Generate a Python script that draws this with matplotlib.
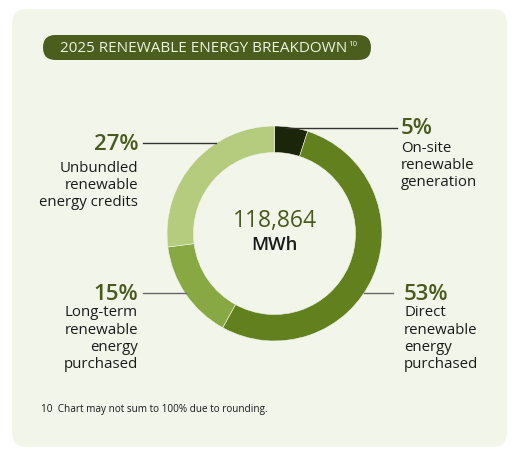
import matplotlib
matplotlib.use("Agg")
import matplotlib.pyplot as plt
from matplotlib.patches import FancyBboxPatch

# ---- data ----
categories = ["On-site renewable generation",
              "Direct renewable energy purchased",
              "Long-term renewable energy purchased",
              "Unbundled renewable energy credits"]
shares = [5, 53, 15, 27]
pct_labels = ["5%", "53%", "15%", "27%"]
desc_labels = [["On-site", "renewable", "generation"],
               ["Direct", "renewable", "energy", "purchased"],
               ["Long-term", "renewable", "energy", "purchased"],
               ["Unbundled", "renewable", "energy credits"]]
total_text = "118,864"
unit_text = "MWh"
title_text = "2025 RENEWABLE ENERGY BREAKDOWN"
title_sup = "10"
footnote = "10  Chart may not sum to 100% due to rounding."

colors = ["#1b2509", "#63801f", "#88a843", "#b5cb7d"]
W, H = 524, 452
FONT = "Open Sans"
PCT_C = "#4a5a1c"
TXT_C = "#1a1a1a"

def Y(y):
    return H - y

fig = plt.figure(figsize=(W / 100, H / 100), dpi=100)
fig.patch.set_facecolor("white")
ax = fig.add_axes([0, 0, 1, 1])
ax.set_xlim(0, W)
ax.set_ylim(0, H)
ax.set_aspect("equal")
ax.axis("off")

# panel background
ax.add_patch(FancyBboxPatch((12 + 14, Y(448) + 14), 495 - 28, 438 - 28,
                            boxstyle="round,pad=14", fc="#f2f6ea", ec="none", zorder=0))
# title pill
ax.add_patch(FancyBboxPatch((43 + 12.5, Y(61) + 12.5), 328 - 25, 0.01,
                            boxstyle="round,pad=12.5", fc="#4b5e1d", ec="none", zorder=1))
ax.text(347, Y(49), title_text, ha="right", va="center", fontsize=11,
        color="#eef4e2", family=FONT, zorder=2)
ax.text(348, Y(44), title_sup, ha="left", va="center", fontsize=5.8,
        color="#eef4e2", family=FONT, zorder=2)

# donut
cx, cy, R, w = 274.5, Y(234.5), 107.5, 26.5
ax.pie(shares, colors=colors, startangle=90, counterclock=False,
       center=(cx, cy), radius=R, frame=True,
       wedgeprops=dict(width=w, edgecolor="#f2f6ea", linewidth=0.4))
ax.set_xlim(0, W)
ax.set_ylim(0, H)
ax.axis("off")

ax.text(cx, Y(221), total_text, ha="center", va="center", fontsize=16.5,
        color=PCT_C, family=FONT, zorder=3)
ax.text(cx, Y(245), unit_text, ha="center", va="center", fontsize=13.3,
        color=TXT_C, family=FONT, fontweight="semibold", zorder=3)

# leader lines
ax.plot([286, 397], [Y(129), Y(129)], color="#333333", lw=1.0, zorder=3)
ax.plot([143, 216], [Y(144), Y(144)], color="#333333", lw=1.0, zorder=3)
ax.plot([143, 186], [Y(294), Y(294)], color="#666666", lw=1.0, zorder=1)
ax.plot([364, 393], [Y(294), Y(294)], color="#666666", lw=1.0, zorder=1)

# labels: (x, y of pct, ha)
label_pos = [(401, 129, "left"), (404, 294, "left"), (138, 294, "right"), (138, 144, "right")]
desc_start = [148, 313, 313, 168]
for i in range(4):
    x, y, ha = label_pos[i]
    ax.text(x, Y(y), pct_labels[i], ha=ha, va="center", fontsize=16,
            color=PCT_C, family=FONT, fontweight="semibold")
    for j, line in enumerate(desc_labels[i]):
        ax.text(x, Y(desc_start[i] + j * 17.2), line, ha=ha, va="center",
                fontsize=10.8, color=TXT_C, family=FONT)

ax.text(41, Y(410), footnote, ha="left", va="center", fontsize=7.2,
        color=TXT_C, family=FONT)

fig.savefig("out.png", dpi=100, facecolor="white")
